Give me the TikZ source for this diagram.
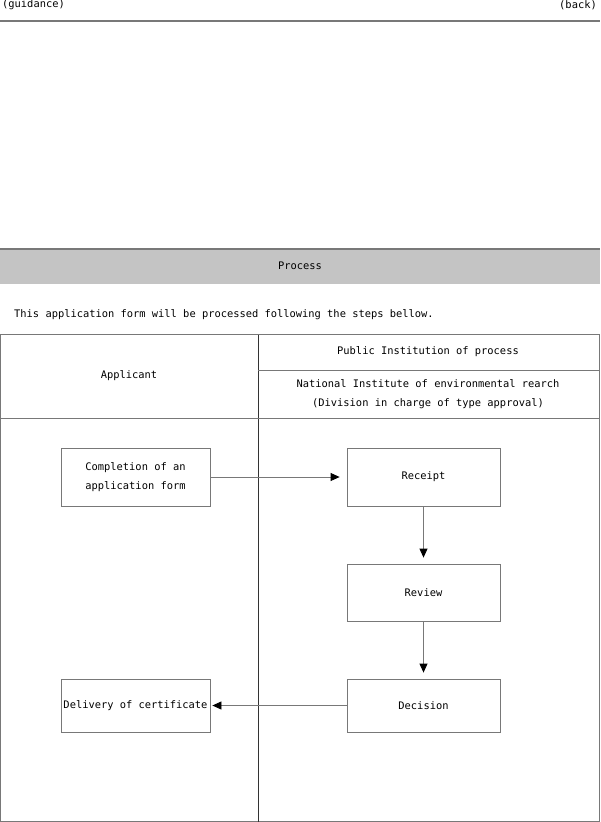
\documentclass[tikz,border=0pt]{standalone}
\usepackage{fontspec}
\setmainfont{DejaVu Sans Mono}
\usetikzlibrary{arrows.meta}
\definecolor{bandgray}{RGB}{196,196,196}
\definecolor{rulegray}{RGB}{120,120,120}
\tikzset{
  stepbox/.style={draw=rulegray,line width=0.8pt,minimum width=149pt,align=center,inner sep=0pt},
  flow/.style={draw=rulegray,line width=0.8pt,-{Triangle[length=9pt,width=8pt,color=black]}},
  txt/.style={font=\fontsize{10.4}{19}\selectfont,inner sep=0pt}
}
\begin{document}
\begin{tikzpicture}[x=1pt,y=-1pt,every node/.style={txt}]
  \useasboundingbox (0,0) rectangle (600,822);
  % Top links
  \node[anchor=west] (guide) at (2,5) {(guidance)};
  \node[anchor=east] (back) at (597,5) {(back)};
  \draw[rulegray,line width=2pt] (0,21) -- (600,21);
  % Process band
  \fill[bandgray] (0,249) rectangle (600,284);
  \draw[rulegray,line width=2pt] (0,249) -- (600,249);
  \node (band) at (300,266) {Process};
  \node[anchor=west] (intro) at (14,315) {This application form will be processed following the steps bellow.};
  % Table
  \draw[rulegray,line width=1pt] (0.5,334.5) rectangle (599.5,821.5);
  \draw[black!80,line width=0.8pt] (258,334.5) -- (258,821.5);
  \draw[rulegray,line width=0.8pt] (0.5,418) -- (599.5,418);
  \draw[rulegray,line width=0.8pt] (258,370) -- (599.5,370);
  \node (applicant) at (129,376) {Applicant};
  \node (inst) at (428,352) {Public Institution of process};
  \node[align=center] (nier) at (428,394) {National Institute of environmental rearch\\(Division in charge of type approval)};
  % Steps
  \node[stepbox,minimum height=58pt] (form) at (135.5,477) {Completion of an\\application form};
  \node[stepbox,minimum width=153pt,minimum height=58pt] (receipt) at (423.5,477) {Receipt};
  \node[stepbox,minimum width=153pt,minimum height=57pt] (review) at (423.5,592.5) {Review};
  \node[stepbox,minimum width=153pt,minimum height=53pt] (decision) at (423.5,705.5) {Decision};
  \node[stepbox,minimum height=53pt] (delivery) at (135.5,705.5) {Delivery of certificate};
  % Arrows
  \draw[flow] (form.east) -- ([xshift=-7pt]receipt.west);
  \draw[flow] (receipt.south) -- ([yshift=6pt]review.north);
  \draw[flow] (review.south) -- ([yshift=6pt]decision.north);
  \draw[flow] (decision.west) -- ([xshift=2pt]delivery.east);
\end{tikzpicture}
\end{document}
